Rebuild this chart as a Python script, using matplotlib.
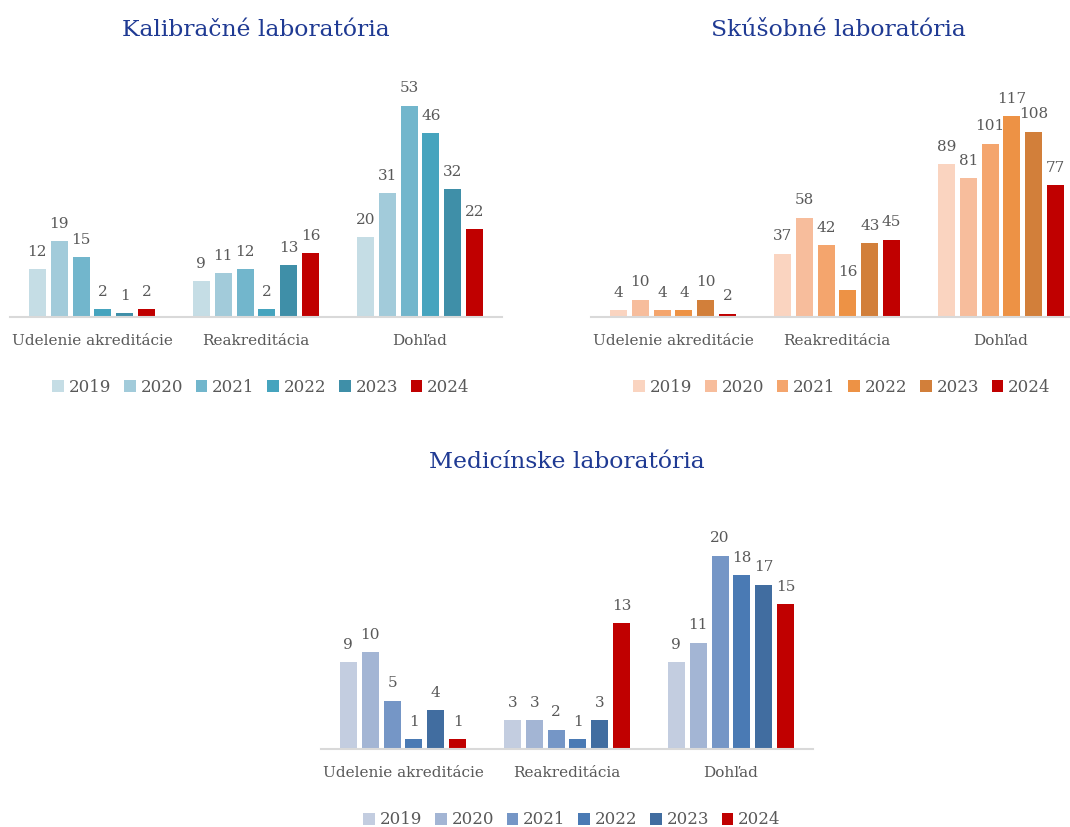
import numpy as np
import matplotlib
matplotlib.use("Agg")
import matplotlib.pyplot as plt

# data
categories = ["Udelenie akreditácie", "Reakreditácia", "Dohľad"]
years = ["2019", "2020", "2021", "2022", "2023", "2024"]

kalib_title = "Kalibračné laboratória"
kalib_values = [
    [12, 9, 20],    # 2019
    [19, 11, 31],   # 2020
    [15, 12, 53],   # 2021
    [2, 2, 46],     # 2022
    [1, 13, 32],    # 2023
    [2, 16, 22],    # 2024
]

skus_title = "Skúšobné laboratória"
skus_values = [
    [4, 37, 89],
    [10, 58, 81],
    [4, 42, 101],
    [4, 16, 117],
    [10, 43, 108],
    [2, 45, 77],
]

med_title = "Medicínske laboratória"
med_values = [
    [9, 3, 9],
    [10, 3, 11],
    [5, 2, 20],
    [1, 1, 18],
    [4, 3, 17],
    [1, 13, 15],
]

kalib_colors = ["#C5DDE5", "#A2CBDA", "#72B6CC", "#46A4BE", "#3F8FA8", "#C00000"]
skus_colors = ["#FAD4C0", "#F7BD9C", "#F4A56D", "#ED9245", "#D27F3A", "#C00000"]
med_colors = ["#C3CDE0", "#A3B5D4", "#7596C6", "#4A7AB4", "#416DA0", "#C00000"]

FONT = "DejaVu Serif"
TXT = "#595959"
TITLE_C = "#1F3A93"

W, H = 1070, 827
fig = plt.figure(figsize=(W / 100, H / 100), dpi=100)


def draw_chart(left, base, scale, ymax, values, colors, title, title_xy, legend_xy):
    """left, base in pixels from top-left; scale in px per unit"""
    width = 492
    height = ymax * scale
    ax = fig.add_axes([left / W, (H - base) / H, width / W, height / H])
    x = np.arange(len(categories))
    slot = 0.8 / len(years)
    for i, (yr, vals, col) in enumerate(zip(years, values, colors)):
        pos = x + (i - 2.5) * slot
        bars = ax.bar(pos, vals, width=slot * 0.78, color=col, label=yr)
        for b, v in zip(bars, vals):
            ax.annotate(str(v), (b.get_x() + b.get_width() / 2, v),
                        xytext=(0, 7.5), textcoords="offset points",
                        ha="center", va="bottom", fontsize=11,
                        color=TXT, family=FONT)
    ax.set_xlim(-0.5, 2.5)
    ax.set_ylim(0, ymax)
    ax.set_yticks([])
    ax.set_xticks(x)
    ax.set_xticklabels(categories, fontsize=11, color=TXT, family=FONT)
    ax.tick_params(axis="x", length=0, pad=12)
    for s in ["top", "right", "left"]:
        ax.spines[s].set_visible(False)
    ax.spines["bottom"].set_color("#D9D9D9")
    ax.spines["bottom"].set_linewidth(1.5)
    ax.patch.set_alpha(0)
    fig.text(title_xy[0] / W, 1 - title_xy[1] / H, title, ha="center", va="center",
             fontsize=16.9, color=TITLE_C, family=FONT)
    leg = fig.legend(*ax.get_legend_handles_labels(), loc="center",
                     bbox_to_anchor=(legend_xy[0] / W, 1 - legend_xy[1] / H),
                     ncol=6, frameon=False, handlelength=0.7, handleheight=0.7,
                     handletextpad=0.3, columnspacing=0.75,
                     prop={"family": FONT, "size": 12})
    for t in leg.get_texts():
        t.set_color(TXT)
    return ax


draw_chart(10, 317, 3.99, 58, kalib_values, kalib_colors, kalib_title, (256, 30), (261, 387))
draw_chart(591, 317, 1.715, 128, skus_values, skus_colors, skus_title, (838, 30), (842, 387))
draw_chart(321, 749, 9.67, 21, med_values, med_colors, med_title, (567, 462), (572, 820))

fig.savefig("out.png", dpi=100, facecolor="white")
